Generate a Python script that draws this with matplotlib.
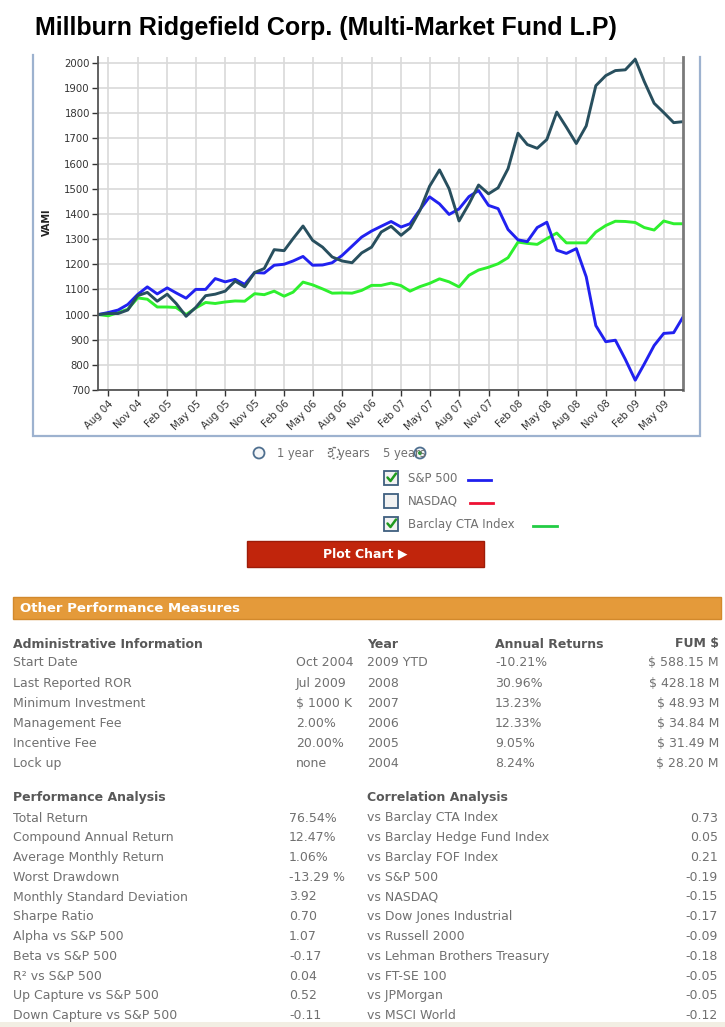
import matplotlib
matplotlib.use("Agg")
import matplotlib.pyplot as plt
import matplotlib.dates as mdates
from matplotlib.patches import Rectangle, Circle
import pandas as pd

W, H = 725, 1027

# ---------------- data ----------------
months = pd.date_range("2004-07-01", periods=61, freq="MS")
fund = [1000, 1004, 1004, 1018, 1075, 1088, 1053, 1081, 1044, 993,
        1028, 1075, 1081, 1093, 1133, 1110, 1167, 1183, 1258, 1254,
        1302, 1352, 1295, 1268, 1229, 1213, 1206, 1245, 1268, 1328,
        1351, 1315, 1344, 1414, 1510, 1575, 1500, 1372, 1440, 1515,
        1480, 1504, 1580, 1721, 1676, 1661, 1696, 1805, 1745, 1680,
        1750, 1910, 1950, 1970, 1973, 2015, 1927, 1840, 1803, 1763, 1767]
sp500 = [1000, 1008, 1018, 1040, 1080, 1110, 1082, 1106, 1086, 1065,
         1100, 1100, 1143, 1130, 1140, 1120, 1167, 1165, 1196, 1200,
         1213, 1231, 1196, 1197, 1206, 1235, 1272, 1308, 1332, 1351,
         1370, 1348, 1361, 1417, 1468, 1440, 1398, 1420, 1469, 1493,
         1434, 1421, 1338, 1297, 1290, 1346, 1367, 1256, 1243, 1262,
         1150, 956, 892, 898, 822, 739, 803, 877, 925, 928, 992]
cta = [1000, 995, 1008, 1021, 1066, 1061, 1030, 1030, 1028, 1000,
       1026, 1048, 1044, 1050, 1054, 1053, 1083, 1079, 1093, 1073,
       1089, 1129, 1118, 1102, 1085, 1086, 1085, 1096, 1116, 1116,
       1125, 1115, 1093, 1111, 1124, 1142, 1130, 1110, 1156, 1177,
       1188, 1202, 1226, 1288, 1283, 1279, 1302, 1324, 1285, 1285,
       1285, 1328, 1354, 1371, 1370, 1366, 1346, 1336, 1372, 1361, 1361]
tick_months = months[1::3]
y_ticks = list(range(700, 2001, 100))

title = "Millburn Ridgefield Corp. (Multi-Market Fund L.P)"
legend_items = ["S&P 500", "NASDAQ", "Barclay CTA Index"]
legend_checked = [True, False, True]
legend_colors = ["#1f1fee", "#ee1133", "#22cc44"]

admin_labels = ["Start Date", "Last Reported ROR", "Minimum Investment",
                "Management Fee", "Incentive Fee", "Lock up"]
admin_values = ["Oct 2004", "Jul 2009", "$ 1000 K", "2.00%", "20.00%", "none"]
years = ["2009 YTD", "2008", "2007", "2006", "2005", "2004"]
annual_returns = ["-10.21%", "30.96%", "13.23%", "12.33%", "9.05%", "8.24%"]
fum = ["$ 588.15 M", "$ 428.18 M", "$ 48.93 M", "$ 34.84 M", "$ 31.49 M", "$ 28.20 M"]

perf_labels = ["Total Return", "Compound Annual Return", "Average Monthly Return",
               "Worst Drawdown", "Monthly Standard Deviation", "Sharpe Ratio",
               "Alpha vs S&P 500", "Beta vs S&P 500", "R\u00b2 vs S&P 500",
               "Up Capture vs S&P 500", "Down Capture vs S&P 500"]
perf_values = ["76.54%", "12.47%", "1.06%", "-13.29 %", "3.92", "0.70",
               "1.07", "-0.17", "0.04", "0.52", "-0.11"]
corr_labels = ["vs Barclay CTA Index", "vs Barclay Hedge Fund Index",
               "vs Barclay FOF Index", "vs S&P 500", "vs NASDAQ",
               "vs Dow Jones Industrial", "vs Russell 2000",
               "vs Lehman Brothers Treasury", "vs FT-SE 100", "vs JPMorgan",
               "vs MSCI World"]
corr_values = ["0.73", "0.05", "0.21", "-0.19", "-0.15", "-0.17", "-0.09",
               "-0.18", "-0.05", "-0.05", "-0.12"]

# ---------------- figure ----------------
plt.rcParams['font.family'] = ['DejaVu Sans']
fig = plt.figure(figsize=(W / 100, H / 100), dpi=100)
fig.patch.set_facecolor("white")

# overlay in pixel coordinates
ov = fig.add_axes([0, 0, 1, 1])
ov.set_xlim(0, W)
ov.set_ylim(H, 0)
ov.axis("off")

# title
ov.text(35, 28, title, fontsize=18, fontweight="bold", color="black",
        family="Liberation Sans", ha="left", va="center")

# chart frame (left, right, bottom)
fc = "#9db2cf"
ov.plot([33, 33, 700, 700], [55, 435.5, 435.5, 57], color=fc, lw=1.6,
        solid_joinstyle="miter")

# ---------------- chart ----------------
def fx(x):
    return x / W

def fy(y):
    return 1 - y / H

ax = fig.add_axes([fx(98.3), fy(390), (683.3 - 98.3) / W, (390 - 57) / H])
ax.plot(months, cta, color="#2ef02e", lw=2.1, solid_joinstyle="round")
ax.plot(months, sp500, color="#2121f0", lw=2.1, solid_joinstyle="round")
ax.plot(months, fund, color="#284f5e", lw=2.1, solid_joinstyle="round")
ax.set_xlim(months[0], months[-1])
ax.set_ylim(700, 2024)
ax.set_yticks(y_ticks)
ax.set_xticks(tick_months)
ax.xaxis.set_major_formatter(mdates.DateFormatter("%b %y"))
ax.tick_params(axis="both", labelsize=7.3, colors="#333333", length=4,
               width=1, direction="out", pad=2)
for lab in ax.get_xticklabels():
    lab.set_rotation(45)
    lab.set_ha("right")
    lab.set_rotation_mode("anchor")
ax.grid(True, color="#d9d9d9", lw=1.2)
ax.set_axisbelow(True)
ax.spines["top"].set_visible(False)
ax.spines["left"].set_color("#555555")
ax.spines["bottom"].set_color("#555555")
ax.spines["right"].set_color("#7a7a7a")
ax.spines["left"].set_linewidth(1.3)
ax.spines["bottom"].set_linewidth(1.3)
ax.spines["right"].set_linewidth(2)
ax.set_facecolor("white")
fig.text(fx(47), fy(222), "VAMI", rotation=90, fontsize=7, fontweight="bold",
         color="#222222", ha="center", va="center")

# ---------------- controls ----------------
txtc = "#707070"
radio_ec = "#4f6f8f"
ov.add_patch(Circle((259, 453), 5.5, fc="#f4f6f8", ec=radio_ec, lw=1.3))
ov.text(277, 454, "1 year", fontsize=8.3, color=txtc, va="center", ha="left")
ov.text(327, 454, "3 years", fontsize=8.3, color=txtc, va="center", ha="left")
ov.add_patch(Circle((334, 453), 5.5, fc="white", ec="#606060", lw=1.0,
                    ls=(0, (1.5, 1.5)), alpha=0.9))
ov.text(383, 454, "5 years", fontsize=8.3, color=txtc, va="center", ha="left")
ov.add_patch(Circle((420, 453), 5.5, fc="#f4f6f8", ec=radio_ec, lw=1.3))
ov.add_patch(Circle((420, 453), 2.0, fc="#2f9a3a", ec="none"))

leg_y = [478, 501, 524]
line_x = [(468, 491), (470, 493), (533, 557)]
for name, chk, col, yy, (x1, x2) in zip(legend_items, legend_checked,
                                        legend_colors, leg_y, line_x):
    ov.add_patch(Rectangle((384.5, yy - 7), 14, 14, fc="#f2f2f2",
                           ec="#3f5f7f", lw=1.3))
    if chk:
        ov.plot([387.5, 390.5, 396], [yy - 0.5, yy + 3, yy - 4.5],
                color="#1f9a1f", lw=1.8, solid_capstyle="round")
    ov.text(408, yy + 0.5, name, fontsize=8.5, color=txtc, va="center",
            ha="left")
    ov.plot([x1, x2], [yy + 2, yy + 2], color=col, lw=2)

ov.add_patch(Rectangle((247, 541), 237, 26, fc="#c1250c", ec="#9e1c08",
                       lw=1))
ov.text(365, 554, "Plot Chart \u25b6", fontsize=9, fontweight="bold",
        color="white", ha="center", va="center")

# ---------------- table ----------------
ov.add_patch(Rectangle((13, 597), 708, 22, fc="#e49a3a", ec="#d2892c",
                       lw=1))
ov.text(20, 608.5, "Other Performance Measures", fontsize=9.5,
        fontweight="bold", color="white", ha="left", va="center")

hdc = "#585858"
fs = 9
ov.text(13, 644, "Administrative Information", fontsize=fs,
        fontweight="bold", color=hdc, va="center")
ov.text(367, 644, "Year", fontsize=fs, fontweight="bold", color=hdc,
        va="center")
ov.text(495, 644, "Annual Returns", fontsize=fs, fontweight="bold",
        color=hdc, va="center")
ov.text(719, 644, "FUM $", fontsize=fs, fontweight="bold", color=hdc,
        va="center", ha="right")
for k in range(6):
    yy = 663 + k * 20.1
    ov.text(13, yy, admin_labels[k], fontsize=fs, color=txtc, va="center")
    ov.text(296, yy, admin_values[k], fontsize=fs, color=txtc, va="center")
    ov.text(367, yy, years[k], fontsize=fs, color=txtc, va="center")
    ov.text(495, yy, annual_returns[k], fontsize=fs, color=txtc, va="center")
    ov.text(719, yy, fum[k], fontsize=fs, color=txtc, va="center",
            ha="right")

ov.text(13, 798, "Performance Analysis", fontsize=fs, fontweight="bold",
        color=hdc, va="center")
ov.text(367, 798, "Correlation Analysis", fontsize=fs, fontweight="bold",
        color=hdc, va="center")
for k in range(11):
    yy = 818 + k * 19.75
    ov.text(13, yy, perf_labels[k], fontsize=fs, color=txtc, va="center")
    ov.text(289, yy, perf_values[k], fontsize=fs, color=txtc, va="center")
    ov.text(367, yy, corr_labels[k], fontsize=fs, color=txtc, va="center")
    ov.text(718, yy, corr_values[k], fontsize=fs, color=txtc, va="center",
            ha="right")

ov.add_patch(Rectangle((0, 1022), W, 5, fc="#f2eee3", ec="none"))

fig.savefig("out.png", dpi=100, facecolor="white")
